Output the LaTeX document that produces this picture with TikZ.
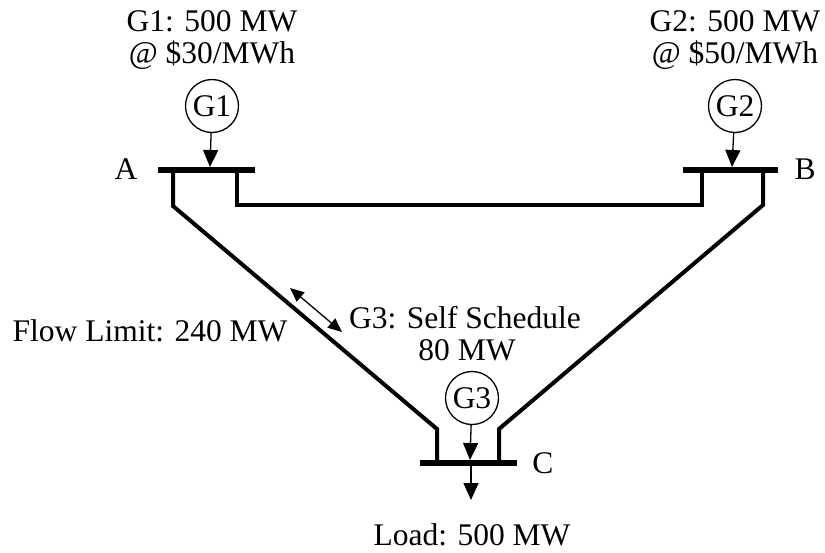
\documentclass[tikz,border=0pt]{standalone}
\usepackage{fontspec}
\setmainfont{Liberation Serif}
\usetikzlibrary{arrows.meta}

\begin{document}
\begin{tikzpicture}[x=1pt,y=-1pt,
        bus/.style={line width=6pt},
        line/.style={line width=4pt},
        gen/.style={draw,circle,line width=1.3pt,minimum size=53pt,inner sep=0pt},
        inj/.style={line width=1.3pt,-{Triangle[length=17pt,width=15pt]}},
        lbl/.style={anchor=base},
        every node/.style={font=\fontsize{31.5}{32}\selectfont}]
        \useasboundingbox (0,0) rectangle (825,552);
        % buses
        \coordinate (A1) at (158,170);
        \coordinate (A2) at (255,170);
        \coordinate (B1) at (683,170);
        \coordinate (B2) at (778,170);
        \coordinate (C1) at (420,463);
        \coordinate (C2) at (517,463);
        \draw [bus] (A1) -- (A2);
        \draw [bus] (B1) -- (B2);
        \draw [bus] (C1) -- (C2);
        \node [lbl] (labA) at (126,179) {A};
        \node [lbl] (labB) at (805,179) {B};
        \node [lbl] (labC) at (543,473) {C};
        % lines
        \coordinate (ab) at (173,206);
        \coordinate (ar) at (237,205);
        \coordinate (bl) at (702,205);
        \coordinate (br) at (763,205);
        \coordinate (cl) at (437,429);
        \coordinate (cr) at (499,429);
        \draw [line] (ab |- A1) -- (ab) -- (cl) -- (cl |- C1);
        \draw [line] (ar |- A2) -- (ar) -- (bl) -- (bl |- B1);
        \draw [line] (br |- B2) -- (br) -- (cr) -- (cr |- C2);
        % generators
        \node [gen] (g1) at (212,106) {G1};
        \node [gen] (g2) at (735,106) {G2};
        \node [gen] (g3) at (472,398) {G3};
        \coordinate (ta) at (210,167);
        \coordinate (tb) at (732,167);
        \coordinate (tc) at (470,460);
        \draw [inj] (g1) -- (ta);
        \draw [inj] (g2) -- (tb);
        \draw [inj] (g3) -- (tc);
        % load
        \coordinate (ld0) at (471,466);
        \coordinate (ld1) at (471,500);
        \draw [inj] (ld0) -- (ld1);
        % flow limit
        \coordinate (fl1) at (290,288);
        \coordinate (fl2) at (342,332);
        \draw [line width=1.3pt,{Triangle[length=14pt,width=12pt]}-{Triangle[length=14pt,width=12pt]}] (fl1) -- (fl2);
        % texts
        \node [lbl] (t1a) at (212,31) {G1: 500 MW};
        \node [lbl] (t1b) at (212,63) {@ \$30/MWh};
        \node [lbl] (t2a) at (735,31) {G2: 500 MW};
        \node [lbl] (t2b) at (735,63) {@ \$50/MWh};
        \node [lbl] (tfl) at (150,341) {Flow Limit: 240 MW};
        \node [lbl] (t3a) at (465,328) {G3: Self Schedule};
        \node [lbl] (t3b) at (467,360) {80 MW};
        \node [lbl] (tld) at (472,545) {Load: 500 MW};
\end{tikzpicture}
\end{document}
